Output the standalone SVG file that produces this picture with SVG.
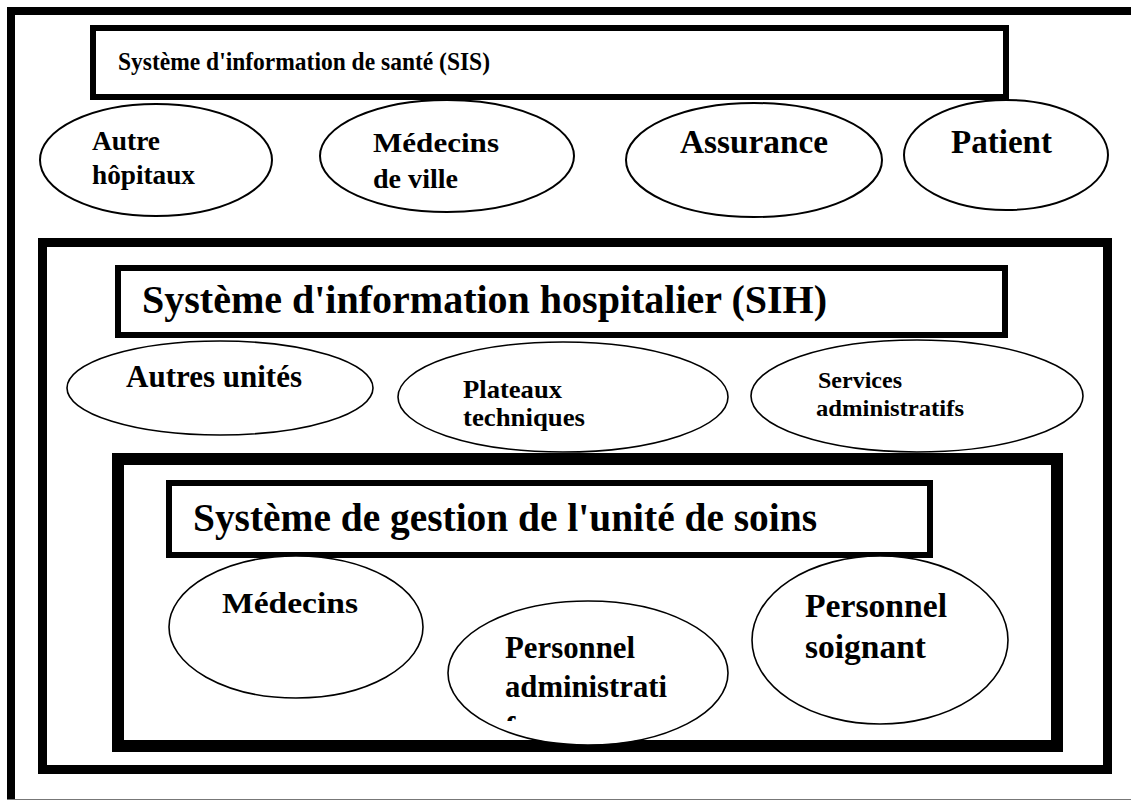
<svg xmlns="http://www.w3.org/2000/svg" width="1131" height="800" viewBox="0 0 1131 800">
<style>
.t{font-family:"Liberation Serif","Times New Roman",serif;font-weight:bold;fill:#000}
.e1{fill:#fff;stroke:#000;stroke-width:2}
.e2{fill:#fff;stroke:#000;stroke-width:1.6}
.box{fill:#fff;stroke:#000}
</style>
<defs>
<clipPath id="clipF"><rect x="480" y="700" width="100" height="21"/></clipPath>
</defs>
<rect x="0" y="0" width="1131" height="800" fill="#fff"/>
<g id="frame-outer">
<line x1="7" y1="11" x2="1131" y2="11" stroke="#000" stroke-width="8"/>
<line x1="11" y1="7" x2="11" y2="799" stroke="#000" stroke-width="8"/>
<line x1="7" y1="799.5" x2="1131" y2="799.5" stroke="#777" stroke-width="1"/>
</g>
<g id="sis-title">
<rect class="box" x="93" y="28" width="913" height="69" stroke-width="6"/>
<text class="t" x="118" y="70" font-size="25" textLength="372" lengthAdjust="spacingAndGlyphs">Système d'information de santé (SIS)</text>
</g>
<g id="sih-frame">
<rect x="42.5" y="242.5" width="1065" height="527" fill="none" stroke="#000" stroke-width="9"/>
</g>
<g id="autre-hopitaux">
<ellipse class="e1" cx="156" cy="160" rx="116" ry="56"/>
<text class="t" x="92" y="150" font-size="27" textLength="68" lengthAdjust="spacingAndGlyphs">Autre</text>
<text class="t" x="92" y="184" font-size="27" textLength="103" lengthAdjust="spacingAndGlyphs">hôpitaux</text>
</g>
<g id="medecins-ville">
<ellipse class="e1" cx="447" cy="156" rx="127" ry="56"/>
<text class="t" x="373" y="152" font-size="28" textLength="126" lengthAdjust="spacingAndGlyphs">Médecins</text>
<text class="t" x="373" y="188" font-size="28" textLength="85" lengthAdjust="spacingAndGlyphs">de ville</text>
</g>
<g id="assurance">
<ellipse class="e1" cx="754" cy="160" rx="128" ry="57"/>
<text class="t" x="680" y="153" font-size="33" textLength="148" lengthAdjust="spacingAndGlyphs">Assurance</text>
</g>
<g id="patient">
<ellipse class="e1" cx="1006" cy="155" rx="102" ry="55"/>
<text class="t" x="951" y="153" font-size="33" textLength="101" lengthAdjust="spacingAndGlyphs">Patient</text>
</g>
<g id="sih-title">
<rect class="box" x="118" y="268" width="887" height="67" stroke-width="6"/>
<text class="t" x="142" y="313" font-size="39" textLength="685" lengthAdjust="spacingAndGlyphs">Système d'information hospitalier  (SIH)</text>
</g>
<g id="autres-unites">
<ellipse class="e2" cx="220" cy="388" rx="153" ry="47"/>
<text class="t" x="126" y="387" font-size="31" textLength="176" lengthAdjust="spacingAndGlyphs">Autres unités</text>
</g>
<g id="plateaux-techniques">
<ellipse class="e2" cx="563" cy="397" rx="165" ry="55"/>
<text class="t" x="463" y="398" font-size="26" textLength="99" lengthAdjust="spacingAndGlyphs">Plateaux</text>
<text class="t" x="463" y="426" font-size="26" textLength="122" lengthAdjust="spacingAndGlyphs">techniques</text>
</g>
<g id="services-administratifs">
<ellipse class="e2" cx="917" cy="396" rx="166" ry="56"/>
<text class="t" x="818" y="388" font-size="24" textLength="84" lengthAdjust="spacingAndGlyphs">Services</text>
<text class="t" x="816" y="416" font-size="24" textLength="148" lengthAdjust="spacingAndGlyphs">administratifs</text>
</g>
<g id="gestion-frame">
<rect x="118" y="459" width="939" height="287" fill="none" stroke="#000" stroke-width="12"/>
</g>
<g id="gestion-title">
<rect class="box" x="169" y="483" width="761" height="72" stroke-width="6"/>
<text class="t" x="193" y="531" font-size="39" textLength="624" lengthAdjust="spacingAndGlyphs">Système de gestion de l'unité de soins</text>
</g>
<g id="medecins">
<ellipse class="e2" cx="296" cy="627" rx="127" ry="71"/>
<text class="t" x="222" y="613" font-size="30" textLength="136" lengthAdjust="spacingAndGlyphs">Médecins</text>
</g>
<g id="personnel-administratif">
<ellipse class="e2" cx="588" cy="673" rx="140" ry="72"/>
<text class="t" x="505" y="658" font-size="31" textLength="130" lengthAdjust="spacingAndGlyphs">Personnel</text>
<text class="t" x="505" y="697" font-size="31" textLength="162" lengthAdjust="spacingAndGlyphs">administrati</text>
<text class="t" x="505" y="738" font-size="31" clip-path="url(#clipF)">f</text>
</g>
<g id="personnel-soignant">
<ellipse class="e2" cx="880" cy="640" rx="128" ry="84"/>
<text class="t" x="805" y="617" font-size="33" textLength="142" lengthAdjust="spacingAndGlyphs">Personnel</text>
<text class="t" x="805" y="658" font-size="33" textLength="121" lengthAdjust="spacingAndGlyphs">soignant</text>
</g>
<g id="connectors"></g>
</svg>
